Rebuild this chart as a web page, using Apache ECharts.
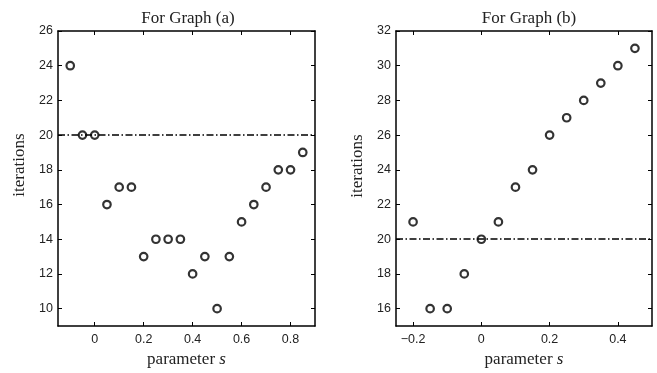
<!DOCTYPE html>
<html>
<head>
<meta charset="utf-8">
<script src="https://cdn.jsdelivr.net/npm/echarts@6/dist/echarts.min.js"></script>
<style>
  html, body { margin: 0; padding: 0; background: #fff; }
  #main { width: 657px; height: 373px; }
</style>
</head>
<body>
<div id="main"></div>
<script>
// graph (a)
var sA = [-0.1, -0.05, 0, 0.05, 0.1, 0.15, 0.2, 0.25, 0.3, 0.35, 0.4, 0.45, 0.5, 0.55, 0.6, 0.65, 0.7, 0.75, 0.8, 0.85];
var itA = [24, 20, 20, 16, 17, 17, 13, 14, 14, 14, 12, 13, 10, 13, 15, 16, 17, 18, 18, 19];
var xTicksA = [0, 0.2, 0.4, 0.6, 0.8];
var yTicksA = [10, 12, 14, 16, 18, 20, 22, 24, 26];

// graph (b)
var sB = [-0.2, -0.15, -0.1, -0.05, 0, 0.05, 0.1, 0.15, 0.2, 0.25, 0.3, 0.35, 0.4, 0.45];
var itB = [21, 16, 16, 18, 20, 21, 23, 24, 26, 27, 28, 29, 30, 31];
var xTicksB = [-0.2, 0, 0.2, 0.4];
var yTicksB = [16, 18, 20, 22, 24, 26, 28, 30, 32];

var refLevel = 20;

var sans = 'Liberation Sans';
var serif = 'Liberation Serif';
var ink = '#222';

function fmtX(v) {
    return v < 0 ? '\u2212' + String(-v) : String(v);
}

function xAxisPair(gi, min, max, ticks) {
    return [{
        type: 'value', gridIndex: gi, min: min, max: max, position: 'bottom',
        name: '{n|parameter }{s|s}', nameLocation: 'middle', nameGap: 25,
        nameTextStyle: {
            rich: {
                n: { fontFamily: serif, fontSize: 17, color: ink },
                s: { fontFamily: serif, fontSize: 17, fontStyle: 'italic', color: ink }
            }
        },
        axisLine: { show: true, onZero: false, lineStyle: { color: '#000', width: 1.5 } },
        axisTick: { show: true, inside: true, length: 4, customValues: ticks, lineStyle: { color: '#000' } },
        axisLabel: { customValues: ticks, formatter: fmtX, fontFamily: sans, fontSize: 12.5, color: ink, margin: 7 },
        splitLine: { show: false }
    }, {
        type: 'value', gridIndex: gi, min: min, max: max, position: 'top',
        axisLine: { show: true, onZero: false, lineStyle: { color: '#000', width: 1.5 } },
        axisTick: { show: true, inside: true, length: 4, customValues: ticks, lineStyle: { color: '#000' } },
        axisLabel: { show: false },
        splitLine: { show: false }
    }];
}

function yAxisPair(gi, min, max, ticks) {
    return [{
        type: 'value', gridIndex: gi, min: min, max: max, position: 'left',
        axisLine: { show: true, onZero: false, lineStyle: { color: '#000', width: 1.5 } },
        axisTick: { show: true, inside: true, length: 4, customValues: ticks, lineStyle: { color: '#000' } },
        axisLabel: { customValues: ticks, fontFamily: sans, fontSize: 12.5, color: ink, margin: 5 },
        splitLine: { show: false }
    }, {
        type: 'value', gridIndex: gi, min: min, max: max, position: 'right',
        axisLine: { show: true, onZero: false, lineStyle: { color: '#000', width: 1.5 } },
        axisTick: { show: true, inside: true, length: 4, customValues: ticks, lineStyle: { color: '#000' } },
        axisLabel: { show: false },
        splitLine: { show: false }
    }];
}

function pts(xs, ys) {
    return xs.map(function (x, i) { return [x, ys[i]]; });
}

function yName(x, y) {
    return {
        type: 'text', x: x, y: y, rotation: Math.PI / 2,
        style: { text: 'iterations', fontFamily: serif, fontSize: 17, fill: ink, align: 'center', verticalAlign: 'middle' }
    };
}

var marker = {
    symbol: 'circle', symbolSize: 7.5,
    itemStyle: { color: '#fff', borderColor: '#000', borderWidth: 2.2 }
};

var dashDot = { color: '#000', width: 1.6, type: [7, 2.5, 1.5, 2.5] };

var chart = echarts.init(document.getElementById('main'));
chart.setOption({
    animation: false,
    title: [
        { text: 'For Graph (a)', left: 183, top: 5, textAlign: 'center',
          textStyle: { fontFamily: serif, fontSize: 17, fontWeight: 'normal', color: ink } },
        { text: 'For Graph (b)', left: 524, top: 5, textAlign: 'center',
          textStyle: { fontFamily: serif, fontSize: 17, fontWeight: 'normal', color: ink } }
    ],
    graphic: [yName(20, 165), yName(358, 166)],
    grid: [
        { left: 58, top: 31, width: 257, height: 296 },
        { left: 396, top: 31, width: 256, height: 296 }
    ],
    xAxis: xAxisPair(0, -0.15, 0.9, xTicksA).concat(xAxisPair(1, -0.25, 0.5, xTicksB)),
    yAxis: yAxisPair(0, 9, 26, yTicksA).concat(yAxisPair(1, 15, 32, yTicksB)),
    series: [
        Object.assign({
            type: 'scatter', xAxisIndex: 0, yAxisIndex: 0, data: pts(sA, itA), z: 3,
            markLine: { silent: true, symbol: 'none', label: { show: false }, lineStyle: dashDot,
                        data: [{ yAxis: refLevel }] }
        }, marker),
        Object.assign({
            type: 'scatter', xAxisIndex: 2, yAxisIndex: 2, data: pts(sB, itB), z: 3,
            markLine: { silent: true, symbol: 'none', label: { show: false }, lineStyle: dashDot,
                        data: [{ yAxis: refLevel }] }
        }, marker)
    ]
});
</script>
</body>
</html>
